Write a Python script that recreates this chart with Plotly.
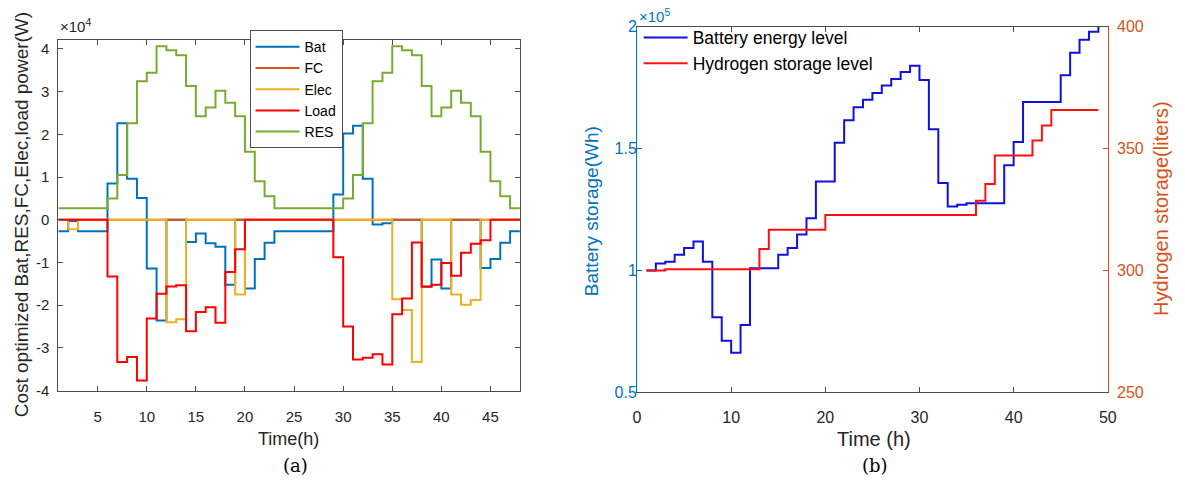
import plotly.graph_objects as go

# ---------------- (a) hourly power flows, units: W ----------------
hours = list(range(1, 49))

bat_w = [-2700, -300, -2700, -2700, -2700, 8500, 22600, 9600, 5100, -11400,
         -23600, 0, 0, -5200, -3200, -5500, -6300, -15200, 0, -16100,
         -9200, -5400, -2700, -2700, -2700, -2700, -2700, -2700, 5900, 20200,
         22000, 9600, -1100, -800, 0, 0, 0, -15600, -9300, -16100,
         0, 0, 0, -11300, -9200, -5400, -2700, -2700]

fc_w = [0] * 48

elec_w = [0, -2200, 0, 0, 0, 0, 0, 0, 0, 0,
          0, -24000, -23300, 0, 0, 0, 0, 0, -17500, 0,
          0, 0, 0, 0, 0, 0, 0, 0, 0, 0,
          0, 0, 0, 0, -18600, -21100, -33300, 0, 0, 0,
          -17500, -19900, -18800, 0, 0, 0, 0, 0]

load_w = [0, 0, 0, 0, 0, -13300, -33300, -32100, -37600, -23100,
          -17300, -15600, -15300, -26100, -21600, -20500, -24100, -12200, -6900, 0,
          0, 0, 0, 0, 0, 0, 0, 0, -8800, -25000,
          -32700, -32300, -31500, -33900, -22100, -18400, -5300, -15700, -15200, -10100,
          -13100, -7700, -5600, -4800, 0, 0, 0, 0]

res_w = [2700, 2700, 2700, 2700, 2700, 5000, 10500, 22600, 32400, 34400,
         40600, 39700, 38500, 31300, 24200, 26300, 30200, 27400, 24200, 15900,
         9000, 5500, 2700, 2700, 2700, 2700, 2700, 2700, 2700, 5000,
         10500, 22600, 32400, 34400, 40600, 39700, 38500, 31300, 24200, 26300,
         30200, 27400, 24200, 15900, 9000, 5500, 2700, 2700]

a_names = ["Bat", "FC", "Elec", "Load", "RES"]
a_colors = ["#0072BD", "#D95319", "#EDB120", "#FF0000", "#77AC30"]
a_series = [bat_w, fc_w, elec_w, load_w, res_w]

a_yticks = [-40000, -30000, -20000, -10000, 0, 10000, 20000, 30000, 40000]
a_yticklabels = ["-4", "-3", "-2", "-1", "0", "1", "2", "3", "4"]
a_xticks = [5, 10, 15, 20, 25, 30, 35, 40, 45]

# ---------------- (b) storage levels ----------------
steps = list(range(1, 50))

battery_wh = [100000, 102900, 103600, 106500, 109200, 111900, 103600, 80800, 71200, 66300,
              77600, 100900, 100900, 100900, 106500, 109200, 114800, 121400, 136500, 136500,
              152400, 161600, 166900, 170000, 172800, 175900, 178500, 181400, 184000, 178100,
              157900, 135900, 126200, 127000, 127600, 127600, 127600, 127600, 143200, 152700,
              169100, 169100, 169100, 169100, 180100, 189300, 194600, 197900, 200000]

hydrogen_l = [300.0, 300.0, 300.5, 300.5, 300.5, 300.5, 300.5, 300.5, 300.5, 300.5,
              300.5, 300.5, 308.8, 316.7, 316.7, 316.7, 316.7, 316.7, 316.7, 322.7,
              322.7, 322.7, 322.7, 322.7, 322.7, 322.7, 322.7, 322.7, 322.7, 322.7,
              322.7, 322.7, 322.7, 322.7, 322.7, 328.6, 335.5, 347.1, 347.1, 347.1,
              347.1, 353.3, 359.4, 365.8, 365.8, 365.8, 365.8, 365.8, 365.8]

b_yticks = [50000, 100000, 150000, 200000]
b_yticklabels = ["0.5", "1", "1.5", "2"]

AX = "#4d4d4d"
TXT = "#262626"
LBLUE = "#0072BD"
RORANGE = "#D95319"
FONT = "Liberation Sans, Arial, sans-serif"

fig = go.Figure()

for name, color, vals in zip(a_names, a_colors, a_series):
    fig.add_trace(go.Scatter(
        x=hours, y=vals, name=name, mode="lines", line_shape="hv",
        line=dict(color=color, width=2), xaxis="x", yaxis="y", legend="legend"))

fig.add_trace(go.Scatter(
    x=steps, y=battery_wh, name="Battery energy level", mode="lines", line_shape="hv",
    line=dict(color="#1010E0", width=2), xaxis="x2", yaxis="y3", legend="legend2"))
fig.add_trace(go.Scatter(
    x=steps, y=hydrogen_l, name="Hydrogen storage level", mode="lines", line_shape="hv",
    line=dict(color="#FF1010", width=2), xaxis="x2", yaxis="y4", legend="legend2"))


def axis_style(size, color):
    return dict(showgrid=False, zeroline=False, showline=True, linewidth=1,
                ticks="inside", ticklen=5, tickwidth=1,
                tickfont=dict(family=FONT, size=size, color=color))


fig.update_layout(
    width=1185, height=487, autosize=False,
    margin=dict(l=0, r=0, t=0, b=0),
    paper_bgcolor="white", plot_bgcolor="white",
    font=dict(family=FONT, color=TXT),
    xaxis=dict(domain=[0.0464, 0.4402], range=[1, 48], tickvals=a_xticks,
               linecolor=AX, tickcolor=AX, mirror="ticks", anchor="y",
               ticklabelstandoff=12, **axis_style(15, TXT)),
    yaxis=dict(domain=[0.1858, 0.9322], range=[-40000, 42100], tickvals=a_yticks,
               ticktext=a_yticklabels, linecolor=AX, tickcolor=AX, mirror="ticks",
               anchor="x", ticklabelstandoff=5, **axis_style(15, TXT)),
    xaxis2=dict(domain=[0.5401, 0.9418], range=[0, 50], dtick=10,
                linecolor=AX, tickcolor=AX, mirror="ticks", anchor="y3",
                ticklabelstandoff=10, **axis_style(16, TXT)),
    yaxis3=dict(domain=[0.1821, 0.9604], range=[50000, 200000], tickvals=b_yticks,
                ticktext=b_yticklabels, linecolor=LBLUE, tickcolor=LBLUE, anchor="x2",
                side="left", ticklabelstandoff=-4, **axis_style(16, LBLUE)),
    yaxis4=dict(range=[250, 400], dtick=50, linecolor=RORANGE, tickcolor=RORANGE,
                anchor="x2", overlaying="y3", side="right", ticklabelstandoff=5,
                **axis_style(16, RORANGE)),
    legend=dict(x=0.2095, y=1 - 23 / 487, xanchor="left", yanchor="top",
                bgcolor="white", bordercolor=AX, borderwidth=1,
                font=dict(family=FONT, size=14, color="#000000"),
                tracegroupgap=0, itemwidth=44),
    legend2=dict(x=0.5415, y=1 - 12 / 487, xanchor="left", yanchor="top",
                 bgcolor="rgba(255,255,255,0)", borderwidth=0,
                 font=dict(family=FONT, size=17.5, color="#000000"),
                 tracegroupgap=0, itemwidth=44),
    showlegend=True,
)

ann = [
    dict(text="×10<sup>4</sup>", x=55, y=18, font=dict(size=15, color=TXT), xanchor="left"),
    dict(text="×10<sup>5</sup>", x=640, y=8, font=dict(size=15, color=LBLUE), xanchor="left"),
    dict(text="Cost optimized Bat,RES,FC,Elec,load power(W)", x=18, y=214,
         textangle=-90, font=dict(size=19, color=TXT)),
    dict(text="Time(h)", x=288, y=447, font=dict(size=18, color=TXT)),
    dict(text="(a)", x=295, y=474, font=dict(size=18, color="#000000",
                                              family="DejaVu Serif, serif")),
    dict(text="Battery storage(Wh)", x=594, y=210, textangle=-90,
         font=dict(size=19, color=LBLUE)),
    dict(text="Hydrogen storage(liters)", x=1170, y=208, textangle=-90,
         font=dict(size=20, color=RORANGE)),
    dict(text="Time (h)", x=880, y=447, font=dict(size=20, color=TXT)),
    dict(text="(b)", x=881, y=474, font=dict(size=18, color="#000000",
                                              family="DejaVu Serif, serif")),
]
for a in ann:
    a.setdefault("xanchor", "center")
    a["x"] = a["x"] / 1185
    a["y"] = 1 - a["y"] / 487
    a["font"].setdefault("family", FONT)
    fig.add_annotation(xref="paper", yref="paper", showarrow=False, yanchor="middle", **a)

fig.write_html("out.html")
